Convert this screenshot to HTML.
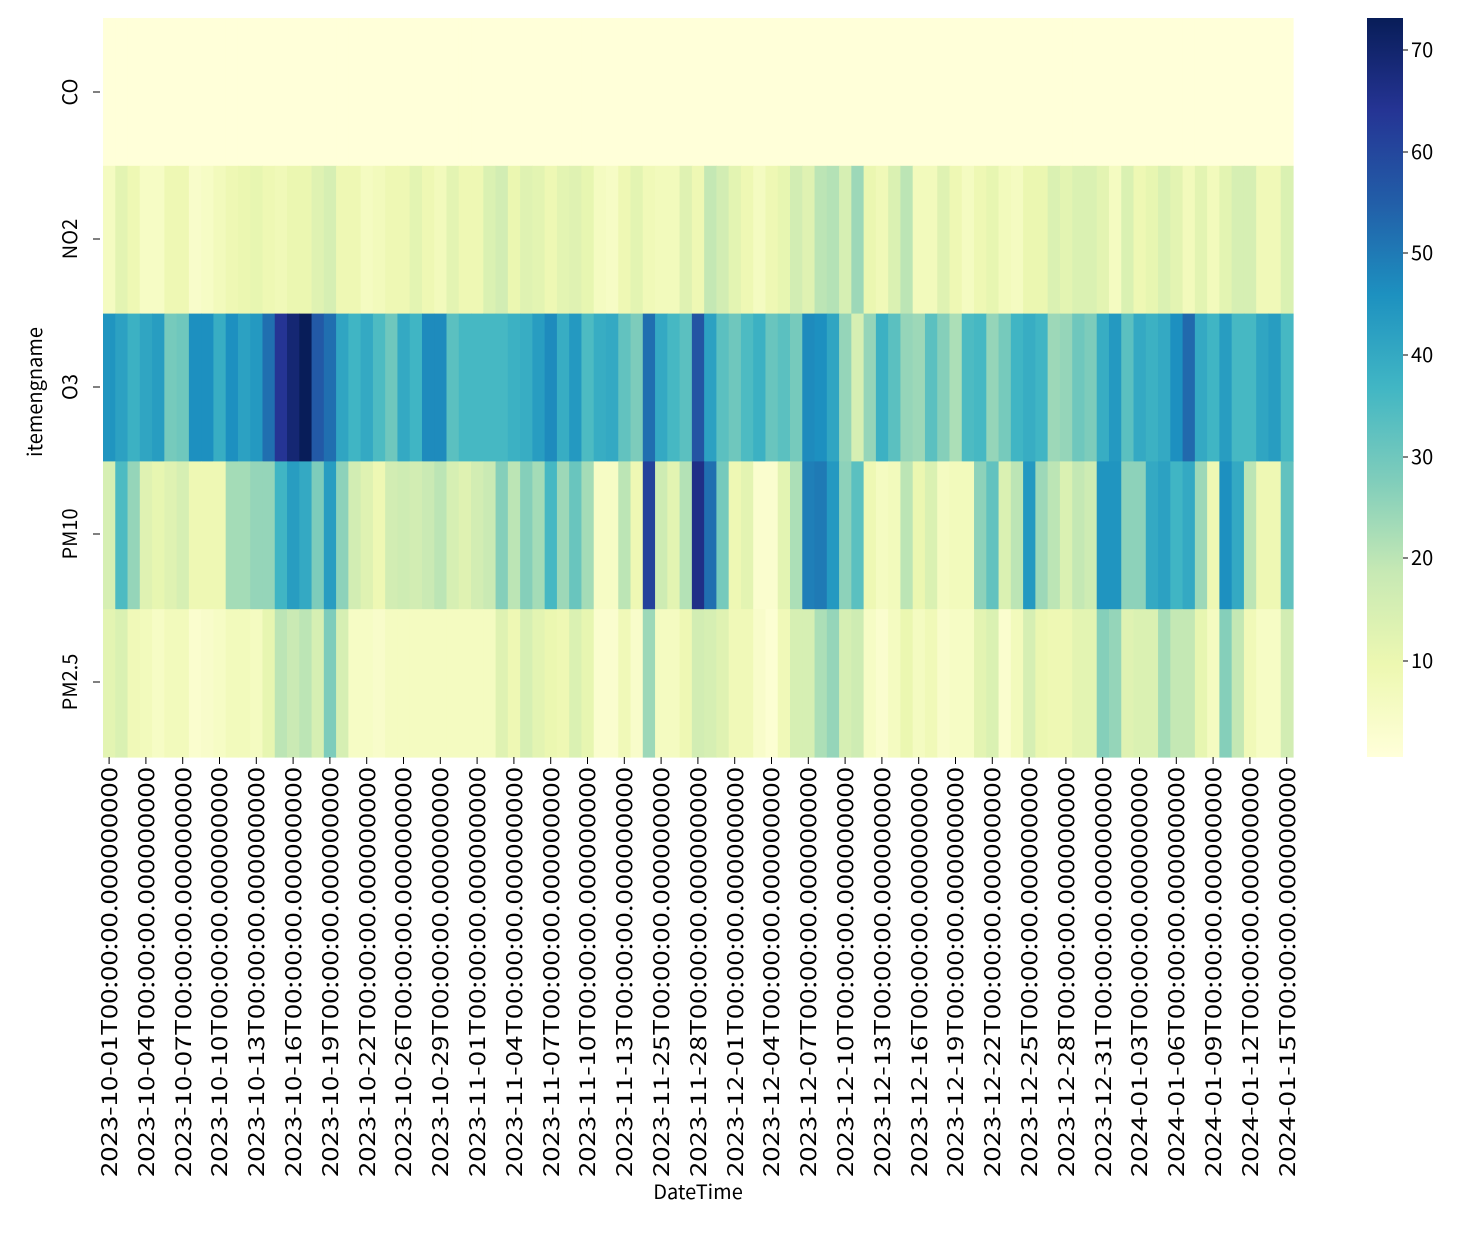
<!DOCTYPE html>
<html><head><meta charset="utf-8"><style>
body{margin:0;background:#fff;}
svg text{font-family:"Noto Sans CJK JP","Liberation Sans",sans-serif;fill:#000;}
</style></head><body>
<svg id="s" width="1471" height="1228" xmlns="http://www.w3.org/2000/svg">
<defs><linearGradient id="cb" x1="0" y1="1" x2="0" y2="0">
<stop offset="0" stop-color="#ffffd9"/><stop offset="0.125" stop-color="#edf8b1"/><stop offset="0.25" stop-color="#c7e9b4"/><stop offset="0.375" stop-color="#7fcdbb"/><stop offset="0.5" stop-color="#41b6c4"/><stop offset="0.625" stop-color="#1d91c0"/><stop offset="0.75" stop-color="#225ea8"/><stop offset="0.875" stop-color="#253494"/><stop offset="1" stop-color="#081d58"/>
</linearGradient></defs>
<g id="cells"></g>
<rect x="1367" y="18" width="36" height="739" fill="url(#cb)"/>
<g stroke="#000" stroke-width="1">
<line x1="1403" y1="50" x2="1408" y2="50"/><line x1="1403" y1="152" x2="1408" y2="152"/><line x1="1403" y1="253" x2="1408" y2="253"/><line x1="1403" y1="355" x2="1408" y2="355"/><line x1="1403" y1="457" x2="1408" y2="457"/><line x1="1403" y1="558" x2="1408" y2="558"/><line x1="1403" y1="661" x2="1408" y2="661"/>
<line x1="93" y1="92" x2="100" y2="92"/><line x1="93" y1="239" x2="100" y2="239"/><line x1="93" y1="387" x2="100" y2="387"/><line x1="93" y1="534" x2="100" y2="534"/><line x1="93" y1="682" x2="100" y2="682"/>
</g>
<g font-size="20">
<text x="1411" y="57">70</text><text x="1411" y="159">60</text><text x="1411" y="260">50</text><text x="1411" y="362">40</text><text x="1411" y="464">30</text><text x="1411" y="565">20</text><text x="1411" y="668">10</text>
<text transform="translate(77,92) rotate(-90)" text-anchor="middle">CO</text>
<text transform="translate(77,239) rotate(-90)" text-anchor="middle">NO2</text>
<text transform="translate(77,387) rotate(-90)" text-anchor="middle">O3</text>
<text transform="translate(77,534) rotate(-90)" text-anchor="middle">PM10</text>
<text transform="translate(77,682) rotate(-90)" text-anchor="middle">PM2.5</text>
<text transform="translate(42,392) rotate(-90)" text-anchor="middle">itemengname</text>
<text x="698" y="1199" text-anchor="middle">DateTime</text>
</g>
</svg>
<script>
var NO2=[6,12,9,5,5,9,9,4,5,7,9,10,11,9,8,10,10,13,15,9,9,6,7,9,9,12,9,7,12,9,9,14,16,10,13,12,9,12,13,11,6,5,9,12,8,7,7,13,9,19,16,12,9,6,9,11,16,13,20,21,15,24,10,8,14,20,7,7,13,9,6,9,11,7,6,10,10,14,12,14,14,12,6,14,9,11,14,12,7,12,7,12,15,15,8,8,14];
var O3=[45,42,38,41,43,29,30,46,46,39,46,42,44,52,64,69,73,56,52,41,37,40,35,30,40,37,47,47,33,36,36,36,36,38,39,43,47,39,44,35,39,40,32,28,52,40,36,33,57,42,33,30,35,38,31,33,29,47,46,41,25,15,25,38,33,25,24,33,27,22,35,36,25,29,37,39,37,24,25,30,28,39,44,33,40,38,40,46,53,40,37,43,36,36,41,43,36];
var PM10=[15,35,25,13,11,13,15,9,9,9,23,23,25,25,37,43,40,28,43,26,16,13,9,16,17,16,18,20,15,13,16,18,27,20,27,23,36,24,31,23,5,5,20,9,61,17,12,21,66,52,29,9,12,3,3,12,22,49,50,44,26,33,9,6,7,20,10,14,6,7,7,26,32,14,20,44,24,20,14,19,17,45,45,26,26,40,42,37,40,24,9,46,40,20,9,9,32];
var PM25=[12,14,8,7,5,7,7,3,4,5,7,7,6,11,20,18,20,15,28,15,5,5,4,6,6,6,6,6,6,6,6,6,13,9,15,12,10,9,14,11,3,3,8,4,24,6,6,9,16,15,13,8,8,4,2,8,15,15,22,25,15,17,5,3,6,10,6,8,4,5,5,12,14,3,7,15,10,9,9,12,12,27,25,13,14,14,23,19,19,11,6,27,19,8,5,5,16];
var stops=["#ffffd9","#edf8b1","#c7e9b4","#7fcdbb","#41b6c4","#1d91c0","#225ea8","#253494","#081d58"].map(function(h){return [parseInt(h.substr(1,2),16),parseInt(h.substr(3,2),16),parseInt(h.substr(5,2),16)];});
function col(v){var t=(v-0.5)/72.6;t=Math.max(0,Math.min(1,t))*8;var i=Math.min(7,Math.floor(t)),f=t-i;var a=stops[i],b=stops[i+1];return "rgb("+[0,1,2].map(function(k){return Math.round(a[k]+(b[k]-a[k])*f);}).join(",")+")";}
var NS="http://www.w3.org/2000/svg",g=document.getElementById("cells");
var rows=[null,NO2,O3,PM10,PM25],x0=103,W=1190/97,y0=18,H=739/5;
for(var r=0;r<5;r++)for(var c=0;c<97;c++){var e=document.createElementNS(NS,"rect");var xa=x0+c*W,xb=x0+(c+1)*W,ya=y0+r*H,yb=y0+(r+1)*H;e.setAttribute("x",xa.toFixed(2));e.setAttribute("y",ya.toFixed(2));e.setAttribute("width",(xb-xa+0.6).toFixed(2));e.setAttribute("height",(yb-ya+0.6).toFixed(2));e.setAttribute("fill",r==0?col(0.6):col(rows[r][c]));g.appendChild(e);}
</script>
<svg width="1471" height="1228" style="position:absolute;left:0;top:0" xmlns="http://www.w3.org/2000/svg">
<g stroke="#000" stroke-width="1">
<line x1="109.1" y1="757" x2="109.1" y2="764"/><line x1="145.9" y1="757" x2="145.9" y2="764"/><line x1="182.7" y1="757" x2="182.7" y2="764"/><line x1="219.5" y1="757" x2="219.5" y2="764"/><line x1="256.3" y1="757" x2="256.3" y2="764"/><line x1="293.1" y1="757" x2="293.1" y2="764"/><line x1="329.9" y1="757" x2="329.9" y2="764"/><line x1="366.7" y1="757" x2="366.7" y2="764"/><line x1="403.5" y1="757" x2="403.5" y2="764"/><line x1="440.3" y1="757" x2="440.3" y2="764"/><line x1="477.1" y1="757" x2="477.1" y2="764"/><line x1="513.9" y1="757" x2="513.9" y2="764"/><line x1="550.7" y1="757" x2="550.7" y2="764"/><line x1="587.5" y1="757" x2="587.5" y2="764"/><line x1="624.3" y1="757" x2="624.3" y2="764"/><line x1="661.1" y1="757" x2="661.1" y2="764"/><line x1="697.9" y1="757" x2="697.9" y2="764"/><line x1="734.7" y1="757" x2="734.7" y2="764"/><line x1="771.5" y1="757" x2="771.5" y2="764"/><line x1="808.3" y1="757" x2="808.3" y2="764"/><line x1="845.1" y1="757" x2="845.1" y2="764"/><line x1="881.9" y1="757" x2="881.9" y2="764"/><line x1="918.7" y1="757" x2="918.7" y2="764"/><line x1="955.5" y1="757" x2="955.5" y2="764"/><line x1="992.3" y1="757" x2="992.3" y2="764"/><line x1="1029.1" y1="757" x2="1029.1" y2="764"/><line x1="1065.9" y1="757" x2="1065.9" y2="764"/><line x1="1102.7" y1="757" x2="1102.7" y2="764"/><line x1="1139.5" y1="757" x2="1139.5" y2="764"/><line x1="1176.3" y1="757" x2="1176.3" y2="764"/><line x1="1213.1" y1="757" x2="1213.1" y2="764"/><line x1="1249.9" y1="757" x2="1249.9" y2="764"/><line x1="1286.7" y1="757" x2="1286.7" y2="764"/>
</g>
<g font-size="22" text-anchor="end">
<text transform="translate(117,767) rotate(-90)" textLength="410" lengthAdjust="spacingAndGlyphs">2023-10-01T00:00:00.000000000</text>
<text transform="translate(154,767) rotate(-90)" textLength="410" lengthAdjust="spacingAndGlyphs">2023-10-04T00:00:00.000000000</text>
<text transform="translate(191,767) rotate(-90)" textLength="410" lengthAdjust="spacingAndGlyphs">2023-10-07T00:00:00.000000000</text>
<text transform="translate(227,767) rotate(-90)" textLength="410" lengthAdjust="spacingAndGlyphs">2023-10-10T00:00:00.000000000</text>
<text transform="translate(264,767) rotate(-90)" textLength="410" lengthAdjust="spacingAndGlyphs">2023-10-13T00:00:00.000000000</text>
<text transform="translate(301,767) rotate(-90)" textLength="410" lengthAdjust="spacingAndGlyphs">2023-10-16T00:00:00.000000000</text>
<text transform="translate(338,767) rotate(-90)" textLength="410" lengthAdjust="spacingAndGlyphs">2023-10-19T00:00:00.000000000</text>
<text transform="translate(375,767) rotate(-90)" textLength="410" lengthAdjust="spacingAndGlyphs">2023-10-22T00:00:00.000000000</text>
<text transform="translate(411,767) rotate(-90)" textLength="410" lengthAdjust="spacingAndGlyphs">2023-10-26T00:00:00.000000000</text>
<text transform="translate(448,767) rotate(-90)" textLength="410" lengthAdjust="spacingAndGlyphs">2023-10-29T00:00:00.000000000</text>
<text transform="translate(485,767) rotate(-90)" textLength="410" lengthAdjust="spacingAndGlyphs">2023-11-01T00:00:00.000000000</text>
<text transform="translate(522,767) rotate(-90)" textLength="410" lengthAdjust="spacingAndGlyphs">2023-11-04T00:00:00.000000000</text>
<text transform="translate(559,767) rotate(-90)" textLength="410" lengthAdjust="spacingAndGlyphs">2023-11-07T00:00:00.000000000</text>
<text transform="translate(595,767) rotate(-90)" textLength="410" lengthAdjust="spacingAndGlyphs">2023-11-10T00:00:00.000000000</text>
<text transform="translate(632,767) rotate(-90)" textLength="410" lengthAdjust="spacingAndGlyphs">2023-11-13T00:00:00.000000000</text>
<text transform="translate(669,767) rotate(-90)" textLength="410" lengthAdjust="spacingAndGlyphs">2023-11-25T00:00:00.000000000</text>
<text transform="translate(706,767) rotate(-90)" textLength="410" lengthAdjust="spacingAndGlyphs">2023-11-28T00:00:00.000000000</text>
<text transform="translate(743,767) rotate(-90)" textLength="410" lengthAdjust="spacingAndGlyphs">2023-12-01T00:00:00.000000000</text>
<text transform="translate(779,767) rotate(-90)" textLength="410" lengthAdjust="spacingAndGlyphs">2023-12-04T00:00:00.000000000</text>
<text transform="translate(816,767) rotate(-90)" textLength="410" lengthAdjust="spacingAndGlyphs">2023-12-07T00:00:00.000000000</text>
<text transform="translate(853,767) rotate(-90)" textLength="410" lengthAdjust="spacingAndGlyphs">2023-12-10T00:00:00.000000000</text>
<text transform="translate(890,767) rotate(-90)" textLength="410" lengthAdjust="spacingAndGlyphs">2023-12-13T00:00:00.000000000</text>
<text transform="translate(927,767) rotate(-90)" textLength="410" lengthAdjust="spacingAndGlyphs">2023-12-16T00:00:00.000000000</text>
<text transform="translate(963,767) rotate(-90)" textLength="410" lengthAdjust="spacingAndGlyphs">2023-12-19T00:00:00.000000000</text>
<text transform="translate(1000,767) rotate(-90)" textLength="410" lengthAdjust="spacingAndGlyphs">2023-12-22T00:00:00.000000000</text>
<text transform="translate(1037,767) rotate(-90)" textLength="410" lengthAdjust="spacingAndGlyphs">2023-12-25T00:00:00.000000000</text>
<text transform="translate(1074,767) rotate(-90)" textLength="410" lengthAdjust="spacingAndGlyphs">2023-12-28T00:00:00.000000000</text>
<text transform="translate(1111,767) rotate(-90)" textLength="410" lengthAdjust="spacingAndGlyphs">2023-12-31T00:00:00.000000000</text>
<text transform="translate(1147,767) rotate(-90)" textLength="410" lengthAdjust="spacingAndGlyphs">2024-01-03T00:00:00.000000000</text>
<text transform="translate(1184,767) rotate(-90)" textLength="410" lengthAdjust="spacingAndGlyphs">2024-01-06T00:00:00.000000000</text>
<text transform="translate(1221,767) rotate(-90)" textLength="410" lengthAdjust="spacingAndGlyphs">2024-01-09T00:00:00.000000000</text>
<text transform="translate(1258,767) rotate(-90)" textLength="410" lengthAdjust="spacingAndGlyphs">2024-01-12T00:00:00.000000000</text>
<text transform="translate(1295,767) rotate(-90)" textLength="410" lengthAdjust="spacingAndGlyphs">2024-01-15T00:00:00.000000000</text>
</g>
</svg>
</body></html>
